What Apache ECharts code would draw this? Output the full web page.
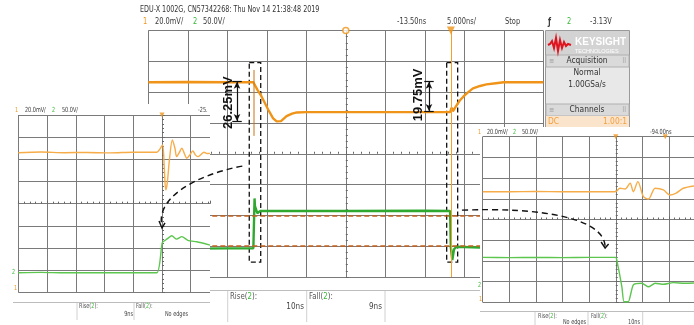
<!DOCTYPE html>
<html><head><meta charset="utf-8">
<script src="https://cdn.jsdelivr.net/npm/echarts/dist/echarts.min.js"></script>
<style>html,body{margin:0;padding:0;background:#fff}#c{width:694px;height:325px}</style>
</head><body><div id="c"></div><script>
// ---------- DATA ----------
// main scope: time in ns (5 ns/div), value in divisions
const ch1MainT = [-25,-20,-15,-11.7,-11.2,-10.65,-9.8,-9.2,-8.75,-8.2,-7.5,-6.8,-6.2,-5,0,5,10,13.2,13.4,13.55,13.9,14.4,14.9,15.5,16.1,17,17.8,19,20,25];
const ch1MainV = [2.32,2.33,2.32,2.32,2.08,1.85,1.42,1.15,1.05,1.06,1.22,1.30,1.34,1.35,1.35,1.35,1.35,1.35,1.50,1.38,1.52,1.72,1.86,2.0,2.12,2.2,2.25,2.29,2.32,2.32];
const ch1SpikeT = [-11.62,-11.62];
const ch1SpikeV = [2.72,0.58];
const ch2MainT = [-25,-20,-15,-11.7,-11.55,-11.5,-11.2,-10.86,-10,0,10,13.2,13.3,13.48,13.7,14.0,20,25];
const ch2MainV = [-3.07,-3.08,-3.07,-3.07,-1.45,-1.70,-1.93,-1.86,-1.86,-1.86,-1.85,-1.86,-3.05,-3.45,-3.10,-3.02,-3.07,-3.07];
const cursorLevels = [-2,-3];
const triggerT = 13.3;
const zoomBoxes = [[-12.22,-10.77],[12.77,14.16]];
const zoomBoxV = [2.96,-3.52];
const dims = [{t:-13.77, hi:2.34, lo:1.06, label:'26.25mV', lt:-14.91, lv:1.66},
              {t:10.53, hi:2.34, lo:1.39, label:'19.75mV', lt:9.14, lv:1.91}];
// left inset (divisions, 0 = centre)
const ch1LeftX = [-5,-4.2,-3.4,-2.6,-1.8,-1,-0.18,-0.08,0.02,0.08,0.13,0.18,0.26,0.36,0.45,0.51,0.6,0.69,0.78,0.86,0.97,1.07,1.16,1.25,1.36,1.46,1.57,1.67];
const ch1LeftV = [2.30,2.33,2.30,2.31,2.29,2.32,2.32,2.45,2.65,1.6,0.62,0.9,2.0,2.87,2.5,2.12,2.3,2.50,2.25,2.05,2.2,2.38,2.2,2.12,2.22,2.32,2.26,2.27];
const ch2LeftX = [-5,-4.2,-3.4,-2.6,-1.8,-1,-0.18,0.01,0.15,0.34,0.51,0.69,0.92,1.21,1.67];
const ch2LeftV = [-3.12,-3.10,-3.12,-3.11,-3.12,-3.12,-3.12,-1.76,-1.62,-1.45,-1.60,-1.49,-1.67,-1.72,-1.87];
// right inset
const ch1RightX = [-5,-4,-3,-2,-1,-0.02,0.16,0.35,0.54,0.66,0.83,1.04,1.23,1.48,1.79,2.04,2.27,2.54,2.94];
const ch1RightV = [1.34,1.34,1.35,1.34,1.34,1.34,1.51,1.47,1.75,1.34,1.83,1.10,0.99,1.51,1.43,1.18,1.28,1.51,1.62];
const ch2RightX = [-5,-4,-3,-2,-1,0,0.04,0.23,0.31,0.47,0.66,0.98,1.23,1.48,1.79,2.16,2.6,2.94];
const ch2RightV = [-1.83,-1.84,-1.83,-1.84,-1.83,-1.83,-1.96,-3.25,-3.97,-3.97,-3.16,-3.08,-3.25,-3.08,-3.13,-3.05,-3.08,-3.07];

// ---------- STYLE ----------
const OR='#ef9418', GR='#2ea82e', ORL='#f6ac48', GRL='#5cc64e', GRID='#7a7a7a';
const fam="'Liberation Sans Narrow','DejaVu Sans Condensed','Arial Narrow','Liberation Sans',Arial,sans-serif";
const zip=(a,b)=>a.map((v,i)=>[v,b[i]]);

function xAx(gi,min,max,iv,zl,noMax){return {type:'value',gridIndex:gi,min,max,interval:iv,zlevel:zl,z:zl?5:0,
  axisLabel:{show:false},axisLine:{show:true,onZero:true,lineStyle:{color:GRID,width:1}},
  axisTick:{show:true,inside:true,length:3,lineStyle:{color:'#666'}},
  minorTick:{show:true,splitNumber:5,length:2,lineStyle:{color:'#666'}},
  splitLine:{show:true,showMaxLine:!noMax,lineStyle:{color:GRID,width:1}}};}
function yAx(gi,zl){return {type:'value',gridIndex:gi,min:-4,max:4,interval:1,zlevel:zl,z:zl?5:0,
  axisLabel:{show:false},axisLine:{show:true,onZero:true,lineStyle:{color:GRID,width:1}},
  axisTick:{show:true,inside:true,length:3,lineStyle:{color:'#666'}},
  minorTick:{show:true,splitNumber:5,length:2,lineStyle:{color:'#666'}},
  splitLine:{show:true,lineStyle:{color:GRID,width:1}}};}

const chart=echarts.init(document.getElementById('c'),null,{renderer:'canvas'});
const noSym={showSymbol:false,symbol:'none',animation:false,silent:true};

const option={
  animation:false,backgroundColor:'#fff',
  grid:[{left:148.3,top:30.5,width:395,height:246.5},
        {left:18.3,top:115,width:191.7,height:177.3,zlevel:1},
        {left:482.7,top:136.7,width:211.3,height:165.6,zlevel:1}],
  xAxis:[xAx(0,-25,25,5,0,false),xAx(1,-5,1.67,1,1,true),xAx(2,-5,2.94,1,1,true)],
  yAxis:[yAx(0,0),yAx(1,1),yAx(2,1)],
  series:[
    Object.assign({type:'line',xAxisIndex:0,yAxisIndex:0,data:zip(ch2MainT,ch2MainV),z:3,
      lineStyle:{color:GR,width:2.4}},noSym),
    Object.assign({type:'line',xAxisIndex:0,yAxisIndex:0,data:zip(ch1SpikeT,ch1SpikeV),z:5,
      lineStyle:{color:'#c87414',width:1},
      markLine:{silent:true,symbol:['none','none'],label:{show:false},animation:false,z:5,
        lineStyle:{color:'#c8601a',type:[5,3],width:1.5},
        data:cursorLevels.map(v=>[{coord:[-25,v]},{coord:[25,v]}])}},noSym),
    Object.assign({type:'line',xAxisIndex:0,yAxisIndex:0,data:zip(ch1MainT,ch1MainV),z:4,
      lineStyle:{color:OR,width:2.4},
      markArea:{silent:true,itemStyle:{color:'rgba(0,0,0,0)',borderColor:'#111',borderWidth:1.3,borderType:[5,3]},
        data:zoomBoxes.map(b=>[{coord:[b[0],zoomBoxV[0]]},{coord:[b[1],zoomBoxV[1]]}])},
      markLine:{silent:true,symbol:['none','none'],label:{show:false},animation:false,
        data:[{xAxis:triggerT,lineStyle:{color:'#f5a028',type:'solid',width:1}}]
          .concat(dims.map(d=>[{coord:[d.t,d.hi],symbol:'arrow',symbolSize:[5,7]},{coord:[d.t,d.lo],symbol:'arrow',symbolSize:[5,7],lineStyle:{color:'#111',type:'solid',width:1.2}}]))
          .concat(dims.flatMap(d=>[[{coord:[d.t-0.6,d.hi]},{coord:[d.t+0.6,d.hi],lineStyle:{color:'#111',type:'solid',width:1.2}}],
                                   [{coord:[d.t-0.6,d.lo]},{coord:[d.t+0.6,d.lo],lineStyle:{color:'#111',type:'solid',width:1.2}}]]))}},noSym),
    {type:'scatter',xAxisIndex:0,yAxisIndex:0,data:[[0,4]],symbol:'circle',symbolSize:6,z:6,animation:false,silent:true,
      itemStyle:{color:'#fff',borderColor:OR,borderWidth:1.5}},
    {type:'scatter',xAxisIndex:0,yAxisIndex:0,data:[[triggerT,4]],symbol:'triangle',symbolRotate:180,symbolSize:8,z:6,animation:false,silent:true,
      itemStyle:{color:OR}},
    // left inset
    Object.assign({type:'line',xAxisIndex:1,yAxisIndex:1,data:zip(ch2LeftX,ch2LeftV),zlevel:1,z:6,smooth:0.2,
      lineStyle:{color:GRL,width:1.4},
      markLine:{silent:true,symbol:['none','none'],label:{show:false},animation:false,
        lineStyle:{color:'#f0a060',type:[4,3],width:1},
        data:cursorLevels.map(v=>({yAxis:v})).concat([{xAxis:-4.94}])}},noSym),
    Object.assign({type:'line',xAxisIndex:1,yAxisIndex:1,data:zip(ch1LeftX,ch1LeftV),zlevel:1,z:6,smooth:0.3,
      lineStyle:{color:ORL,width:1.4}},noSym),
    {type:'scatter',xAxisIndex:1,yAxisIndex:1,data:[[0,4]],symbol:'triangle',symbolRotate:180,symbolSize:5,zlevel:1,z:7,animation:false,silent:true,itemStyle:{color:OR}},
    // right inset
    Object.assign({type:'line',xAxisIndex:2,yAxisIndex:2,data:zip(ch2RightX,ch2RightV),zlevel:1,z:6,smooth:0.2,
      lineStyle:{color:GRL,width:1.4},
      markLine:{silent:true,symbol:['none','none'],label:{show:false},animation:false,
        lineStyle:{color:'#f3b27a',type:[4,3],width:1},
        data:cursorLevels.map(v=>({yAxis:v})).concat([{xAxis:-0.02},{xAxis:0.16}])}},noSym),
    Object.assign({type:'line',xAxisIndex:2,yAxisIndex:2,data:zip(ch1RightX,ch1RightV),zlevel:1,z:6,smooth:0.3,
      lineStyle:{color:ORL,width:1.4}},noSym),
    {type:'scatter',xAxisIndex:2,yAxisIndex:2,data:[[0,4],[1.86,4]],symbol:'triangle',symbolRotate:180,symbolSize:5,zlevel:1,z:7,animation:false,silent:true,itemStyle:{color:OR}}
  ]
};
chart.setOption(option);

// ---------- decorations ----------
function T(x,y,s,o){o=o||{};const fs=o.fs||9;return {type:'text',x,y,zlevel:o.zl==null?1:o.zl,z:o.z||20,silent:true,rotation:o.rot||0,
  scaleX:o.sx||1,
  style:{text:s,fill:o.c||'#3a3a3a',fontSize:fs,fontFamily:o.ff||fam,fontWeight:o.fw||'normal',
    align:o.al||'left',textAlign:o.al||'left',verticalAlign:'middle',textVerticalAlign:'middle',
    rich:{g:{fill:'#38b838',fontSize:fs,fontFamily:o.ff||fam}}}};}
function R(x,y,w,h,fill,stroke,zl,z){return {type:'rect',shape:{x,y,width:w,height:h},zlevel:zl,z:z,silent:true,
  style:{fill:fill,stroke:stroke||null,lineWidth:1}};}
function L(x1,y1,x2,y2,c,zl,w){return {type:'line',shape:{x1,y1,x2,y2},zlevel:zl,z:20,silent:true,style:{stroke:c,lineWidth:w||1}};}

const P=(gi,x,y)=>chart.convertToPixel({gridIndex:gi},[x,y]);
const g=[];
const H={zl:0,fs:9.5,sx:0.78};
const hd=(x,y,s,o)=>T(x,y,s,Object.assign({},H,o||{}));
// header of main scope
g.push(hd(140,10,'EDU-X 1002G, CN57342268: Thu Nov 14 21:38:48 2019',{c:'#333',sx:0.75}));
g.push(hd(143,22,'1',{c:OR}));
g.push(hd(155,22,'20.0mV/'));
g.push(hd(193,22,'2',{c:'#38b838'}));
g.push(hd(203,22,'50.0V/'));
g.push(hd(397,22,'-13.50ns'));
g.push(hd(447,22,'5.000ns/'));
g.push(hd(505,22,'Stop'));
g.push(hd(548,22,'ƒ',{fs:10,fw:'bold'}));
g.push(hd(567,22,'2',{c:'#38b838'}));
g.push(hd(590,22,'-3.13V'));
// main measurement panel
g.push(L(210,290.5,480,290.5,'#bdbdbd',0));
[227.7,306.7,385].forEach(x=>g.push(L(x,291,x,322,'#d0d0d0',0)));
g.push(hd(230,297,'Rise({g|2}):',{c:'#555',sx:0.82}));
g.push(hd(304,307,'10ns',{al:'right',c:'#444',sx:0.85}));
g.push(hd(309,297,'Fall({g|2}):',{c:'#555',sx:0.82}));
g.push(hd(382,307,'9ns',{al:'right',c:'#444',sx:0.85}));
// Keysight panel
g.push(R(545.5,30.5,84,96.5,'#e8e8e8','#9a9a9a',1,0));
g.push(R(546,31,83,24,'#d3d3d3',null,1,1));
g.push({type:'polyline',zlevel:1,z:20,silent:true,shape:{points:[[548,45],[550,44],[552,41],[554,48],[556,38],[558,51],[560,40],[562,48],[564,42],[566,46],[568,44],[571,45]]},
  style:{stroke:'#e0141e',lineWidth:2,fill:null}});
g.push(T(575,42,'KEYSIGHT',{fs:10,fw:'bold',c:'#fff',ff:'Liberation Sans,Arial,sans-serif'}));
g.push(T(575,51,'TECHNOLOGIES',{fs:5.5,c:'#fff',ff:'Liberation Sans,Arial,sans-serif'}));
g.push(R(546,55,83,12,'#dadada','#b0b0b0',1,1));
g.push(T(587,61,'Acquisition',{fs:9.5,al:'center',c:'#333',sx:0.88}));
g.push(T(549,61,'≡',{fs:7,c:'#999'}));
g.push(T(622,61,'⠿',{fs:7,c:'#999'}));
g.push(T(587,73,'Normal',{fs:9.5,al:'center',c:'#333',sx:0.88}));
g.push(T(587,85,'1.00GSa/s',{fs:9.5,al:'center',c:'#333',sx:0.86}));
g.push(R(546,104,83,12,'#dadada','#b0b0b0',1,1));
g.push(T(587,110,'Channels',{fs:9.5,al:'center',c:'#333',sx:0.88}));
g.push(T(549,110,'≡',{fs:7,c:'#999'}));
g.push(T(622,110,'⠿',{fs:7,c:'#999'}));
g.push(R(546,116,83,11,'#fbe4cc',null,1,1));
g.push(T(548,122,'DC',{fs:9.5,c:'#f2a040',sx:0.88}));
g.push(T(627,122,'1.00:1',{fs:9.5,al:'right',c:'#f2a040',sx:0.88}));
// left inset background and text
const I={fs:7,sx:0.78};
const it=(x,y,s,o)=>T(x,y,s,Object.assign({},I,o||{}));
g.push(R(0,104,210,221,'#fff',null,1,0));
g.push(it(15,110,'1',{c:OR}));
g.push(it(25,110,'20.0mV/'));
g.push(it(52,110,'2',{c:'#38b838'}));
g.push(it(62,110,'50.0V/'));
g.push(it(198,110,'-25.'));
g.push(L(13,302.5,210,302.5,'#bdbdbd',1));
[77,134].forEach(x=>g.push(L(x,303,x,320,'#d0d0d0',1)));
g.push(it(79,306,'Rise({g|2}):',{c:'#555'}));
g.push(it(133,314,'9ns',{al:'right',c:'#444'}));
g.push(it(136,306,'Fall({g|2}):',{c:'#555'}));
g.push(it(188,314,'No edges',{al:'right',c:'#444'}));
g.push(it(12,272,'2',{c:'#38b838'}));
g.push(it(14,288,'1',{c:OR}));
// right inset background and text
g.push(R(480,127,214,198,'#fff',null,1,0));
g.push(it(478,132,'1',{c:OR}));
g.push(it(487,132,'20.0mV/'));
g.push(it(513,132,'2',{c:'#38b838'}));
g.push(it(522,132,'50.0V/'));
g.push(it(650,132,'-94.00ns'));
g.push(L(480,311.5,694,311.5,'#bdbdbd',1));
[535,588,642.7].forEach(x=>g.push(L(x,312,x,325,'#d0d0d0',1)));
g.push(it(538,316,'Rise({g|2}):',{c:'#555'}));
g.push(it(586,322,'No edges',{al:'right',c:'#444'}));
g.push(it(591,316,'Fall({g|2}):',{c:'#555'}));
g.push(it(640,322,'10ns',{al:'right',c:'#444'}));
g.push(it(478,285,'2',{c:'#38b838'}));
g.push(it(479,299,'1',{c:OR}));
// rotated dimension labels
dims.forEach(d=>{const p=P(0,d.lt,d.lv);
  g.push(T(p[0],p[1],d.label,{zl:0,fs:13,fw:'bold',c:'#111',al:'center',rot:Math.PI/2,ff:'Liberation Sans,Arial,sans-serif'}));});
// curved dashed arrows
const a1=P(0,-13.1,-0.40), e1=P(1,0,-1.05);
g.push({type:'bezierCurve',zlevel:2,z:20,silent:true,shape:{x1:a1[0],y1:a1[1],cpx1:a1[0]-47,cpy1:a1[1]+9,cpx2:e1[0]-7,cpy2:e1[1]-29,x2:e1[0],y2:e1[1]},
  style:{stroke:'#111',lineWidth:1.4,lineDash:[6,4],fill:null}});
g.push({type:'polyline',zlevel:2,z:20,silent:true,shape:{points:[[e1[0]-3,e1[1]-6],[e1[0],e1[1]+1],[e1[0]+3,e1[1]-4]]},style:{stroke:'#111',lineWidth:1.4,fill:null}});
const a2=P(0,14.7,-1.83), e2=P(2,-0.40,-1.28);
g.push({type:'bezierCurve',zlevel:2,z:20,silent:true,shape:{x1:a2[0],y1:a2[1],cpx1:a2[0]+80,cpy1:a2[1]-3,cpx2:e2[0]-2,cpy2:e2[1]-28,x2:e2[0],y2:e2[1]},
  style:{stroke:'#111',lineWidth:1.4,lineDash:[6,4],fill:null}});
g.push({type:'polyline',zlevel:2,z:20,silent:true,shape:{points:[[e2[0]-4,e2[1]-4],[e2[0],e2[1]+2],[e2[0]+3.5,e2[1]-2]]},style:{stroke:'#111',lineWidth:1.4,fill:null}});

chart.setOption({graphic:{elements:g}});
</script></body></html>
